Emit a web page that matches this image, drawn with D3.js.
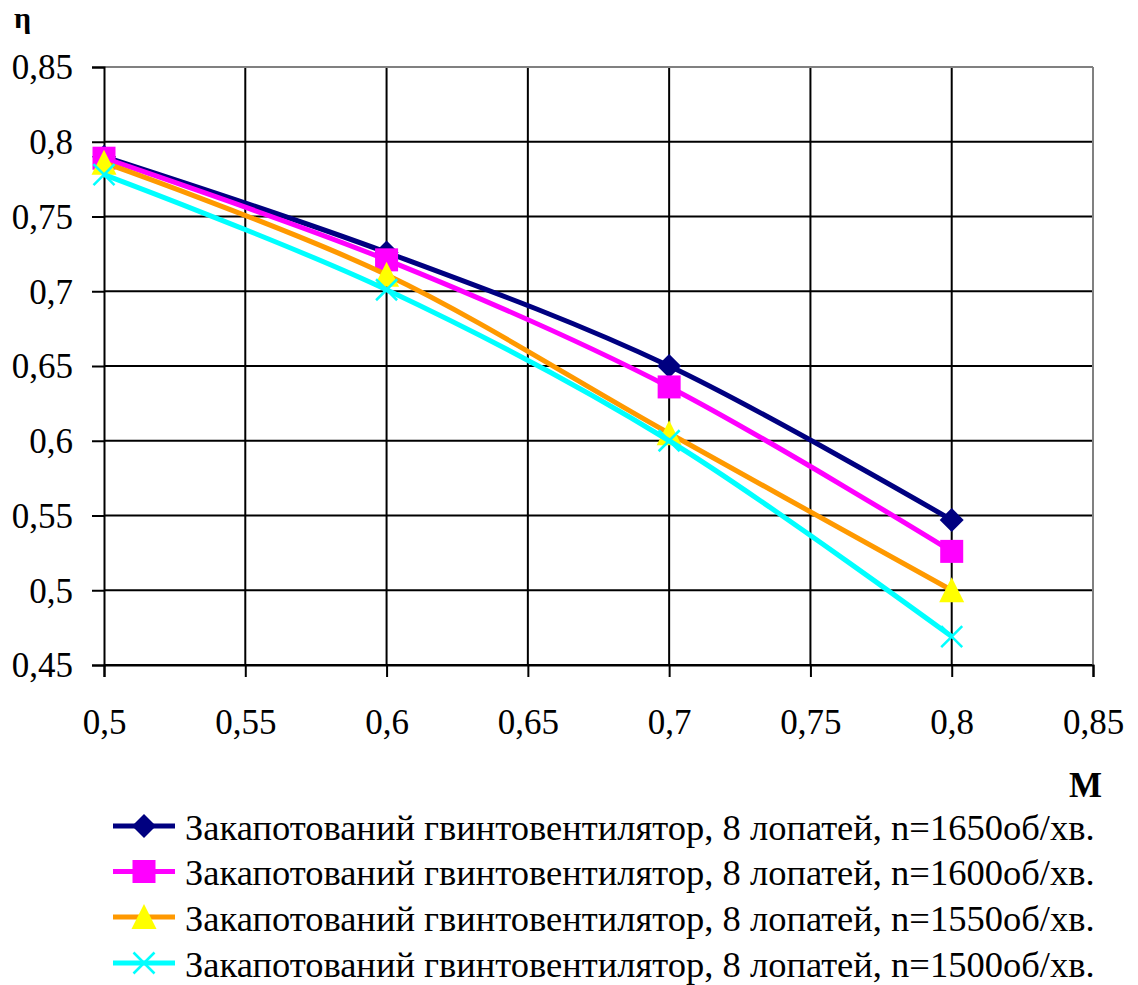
<!DOCTYPE html>
<html>
<head>
<meta charset="utf-8">
<script src="https://cdn.jsdelivr.net/npm/d3@7"></script>
<style>
  html, body { margin: 0; padding: 0; background: #fff; }
  svg { display: block; }
</style>
</head>
<body>
<svg id="chart" width="1138" height="985" font-family="Liberation Serif"></svg>
<script>
// Mach number (x) and efficiency (y) of a ducted propfan, 8 blades
const machValues = [0.5, 0.6, 0.7, 0.8];
const eta1650 = [0.79, 0.726, 0.65, 0.547];
const eta1600 = [0.789, 0.721, 0.636, 0.526];
const eta1550 = [0.786, 0.711, 0.605, 0.500];
const eta1500 = [0.778, 0.701, 0.600, 0.469];
const seriesNames = [
  "Закапотований гвинтовентилятор, 8 лопатей, n=1650об/хв.",
  "Закапотований гвинтовентилятор, 8 лопатей, n=1600об/хв.",
  "Закапотований гвинтовентилятор, 8 лопатей, n=1550об/хв.",
  "Закапотований гвинтовентилятор, 8 лопатей, n=1500об/хв."
];
const xTicks = [0.5, 0.55, 0.6, 0.65, 0.7, 0.75, 0.8, 0.85];
const yTicks = [0.45, 0.5, 0.55, 0.6, 0.65, 0.7, 0.75, 0.8, 0.85];

const series = [
  { name: seriesNames[0], values: eta1650, line: "#000080", fill: "#000080", marker: "diamond" },
  { name: seriesNames[1], values: eta1600, line: "#FF00FF", fill: "#FF00FF", marker: "square" },
  { name: seriesNames[2], values: eta1550, line: "#FF9900", fill: "#FFFF00", marker: "triangle" },
  { name: seriesNames[3], values: eta1500, line: "#00FFFF", fill: "#00FFFF", marker: "cross" }
];

const FONT = "Liberation Serif";
const svg = d3.select("#chart");
const plot = { left: 104, right: 1093, top: 67, bottom: 665 };

const x = d3.scaleLinear().domain([0.5, 0.85]).range([plot.left, plot.right]);
const y = d3.scaleLinear().domain([0.45, 0.85]).range([plot.bottom, plot.top]);

const fmt = d3.formatLocale({ decimal: ",", thousands: " ", grouping: [3], currency: ["", ""] }).format("~g");

// gridlines
const grid = svg.append("g");
grid.selectAll("line.h").data(yTicks.filter(v => v < 0.85)).join("line")
  .attr("x1", plot.left).attr("x2", plot.right)
  .attr("y1", d => y(d)).attr("y2", d => y(d))
  .attr("stroke", "#000").attr("stroke-width", 2);
grid.selectAll("line.v").data(xTicks.filter(v => v > 0.5 && v < 0.85)).join("line")
  .attr("x1", d => x(d)).attr("x2", d => x(d))
  .attr("y1", plot.top).attr("y2", plot.bottom)
  .attr("stroke", "#000").attr("stroke-width", 2);

// plot frame: top and right in grey
svg.append("line").attr("x1", plot.left).attr("x2", plot.right).attr("y1", plot.top).attr("y2", plot.top)
  .attr("stroke", "#808080").attr("stroke-width", 2);
svg.append("line").attr("x1", plot.right).attr("x2", plot.right).attr("y1", plot.top).attr("y2", plot.bottom)
  .attr("stroke", "#808080").attr("stroke-width", 2);

// axes
const yAxis = svg.append("g").attr("transform", `translate(${plot.left},0)`)
  .call(d3.axisLeft(y).tickValues(yTicks).tickFormat(fmt).tickSize(12).tickPadding(19));
const xAxis = svg.append("g").attr("transform", `translate(0,${plot.bottom})`)
  .call(d3.axisBottom(x).tickValues(xTicks).tickFormat(fmt).tickSize(12).tickPadding(32));
[yAxis, xAxis].forEach(a => {
  a.attr("font-family", FONT).attr("font-size", 35);
  a.select(".domain").attr("stroke", "#000").attr("stroke-width", 2);
  a.selectAll(".tick line").attr("stroke", "#000").attr("stroke-width", 2);
  a.selectAll(".tick text").attr("fill", "#000").attr("font-family", FONT);
});
yAxis.selectAll(".tick text").attr("dy", "0.34em");
xAxis.selectAll(".tick text").attr("dy", "0.71em");

// axis titles
svg.append("text").attr("x", 14).attr("y", 28).text("η")
  .attr("font-family", FONT).attr("font-size", 30).attr("font-weight", "bold");
svg.append("text").attr("x", 1102).attr("y", 797).attr("text-anchor", "end").text("M")
  .attr("font-family", FONT).attr("font-size", 35).attr("font-weight", "bold");

// marker shapes
function drawMarker(g, type, fill, cx, cy) {
  if (type === "diamond") {
    g.append("path").attr("d", `M${cx},${cy - 12}L${cx + 12},${cy}L${cx},${cy + 12}L${cx - 12},${cy}Z`)
      .attr("fill", fill);
  } else if (type === "square") {
    g.append("rect").attr("x", cx - 11.5).attr("y", cy - 11.5).attr("width", 23).attr("height", 23)
      .attr("fill", fill);
  } else if (type === "triangle") {
    g.append("path").attr("d", `M${cx},${cy - 13}L${cx + 12.5},${cy + 12}L${cx - 12.5},${cy + 12}Z`)
      .attr("fill", fill);
  } else if (type === "cross") {
    g.append("path").attr("d", `M${cx - 10.5},${cy - 10.5}L${cx + 10.5},${cy + 10.5}M${cx + 10.5},${cy - 10.5}L${cx - 10.5},${cy + 10.5}`)
      .attr("stroke", fill).attr("stroke-width", 2.5).attr("fill", "none");
  }
}

// smoothed series lines with markers
const lineGen = d3.line().x(d => x(d[0])).y(d => y(d[1])).curve(d3.curveCatmullRom.alpha(0));
series.forEach(s => {
  const pts = machValues.map((m, i) => [m, s.values[i]]);
  const g = svg.append("g");
  g.append("path").datum(pts).attr("d", lineGen)
    .attr("fill", "none").attr("stroke", s.line).attr("stroke-width", 5).attr("stroke-linejoin", "round");
  pts.forEach(p => drawMarker(g, s.marker, s.fill, x(p[0]), y(p[1])));
});

// legend
const legend = svg.append("g");
const rowY = [826, 871.5, 917, 963];
series.forEach((s, i) => {
  const g = legend.append("g");
  g.append("line").attr("x1", 113).attr("x2", 175).attr("y1", rowY[i]).attr("y2", rowY[i])
    .attr("stroke", s.line).attr("stroke-width", 5);
  drawMarker(g, s.marker, s.fill, 144, rowY[i]);
  g.append("text").attr("x", 185).attr("y", rowY[i]).attr("dy", "0.37em").text(s.name)
    .attr("font-family", FONT).attr("font-size", 36.5);
});
</script>
</body>
</html>
